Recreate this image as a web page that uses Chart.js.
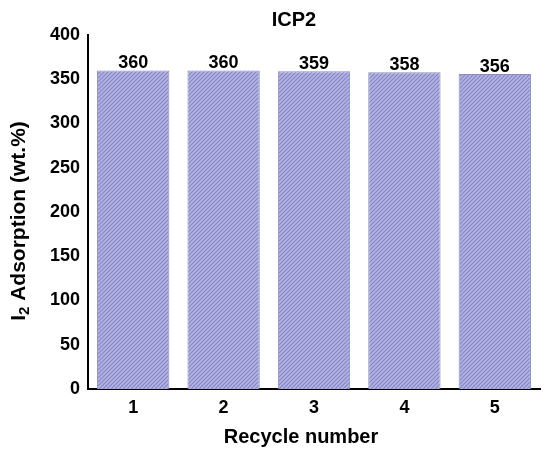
<!DOCTYPE html>
<html><head><meta charset="utf-8">
<script src="https://cdn.jsdelivr.net/npm/chart.js@4/dist/chart.umd.min.js"></script>
<style>html,body{margin:0;padding:0;background:#fff;}#c{display:block;}</style>
</head><body>
<canvas id="c" width="550" height="453"></canvas>
<script>
const categories = ["1","2","3","4","5"];
const adsorption = [360, 360, 359, 358, 356];
const yTicks = [0,50,100,150,200,250,300,350,400];
const titleText = "ICP2";
const yTitleMain = "I";
const yTitleSub = "2";
const yTitleRest = " Adsorption (wt.%)";
const xTitle = "Recycle number";
const FONT = '"Liberation Sans", Arial, sans-serif';

function hatch(){
  const c = document.createElement('canvas'); c.width = 4; c.height = 4;
  const g = c.getContext('2d');
  g.fillStyle = '#b4b4e4'; g.fillRect(0,0,4,4);
  g.strokeStyle = '#8686c4'; g.lineWidth = 1.2;
  g.beginPath();
  g.moveTo(0,4); g.lineTo(4,0);
  g.moveTo(-1,1); g.lineTo(1,-1);
  g.moveTo(3,5); g.lineTo(5,3);
  g.stroke();
  return document.getElementById('c').getContext('2d').createPattern(c,'repeat');
}

const labelsPlugin = {
  id:'lbl',
  afterDatasetsDraw(chart){
    const ctx = chart.ctx;
    const meta = chart.getDatasetMeta(0);
    ctx.save();
    ctx.fillStyle = '#000';
    ctx.font = 'bold 18px ' + FONT;
    ctx.textAlign = 'center'; ctx.textBaseline = 'alphabetic';
    meta.data.forEach((b,i)=>{ ctx.fillText(String(adsorption[i]), b.x, b.y - 2); });
    ctx.font = 'bold 20px ' + FONT;
    ctx.textBaseline = 'middle';
    ctx.fillText(titleText, 294, 20);
    ctx.fillText(xTitle, 301, 437);
    ctx.translate(19, 221);
    ctx.rotate(-Math.PI/2);
    ctx.textAlign = 'left';
    ctx.font = 'bold 21px ' + FONT;
    const wI = ctx.measureText(yTitleMain).width;
    const wR = ctx.measureText(yTitleRest).width;
    ctx.font = 'bold 15px ' + FONT;
    const wS = ctx.measureText(yTitleSub).width;
    const total = wI + wS + wR;
    let x = -total/2;
    ctx.font = 'bold 21px ' + FONT;
    ctx.fillText(yTitleMain, x, 0); x += wI;
    ctx.font = 'bold 15px ' + FONT;
    ctx.fillText(yTitleSub, x, 6); x += wS;
    ctx.font = 'bold 21px ' + FONT;
    ctx.fillText(yTitleRest, x, 0);
    ctx.restore();
  }
};

new Chart(document.getElementById('c'), {
  type:'bar',
  data:{ labels: categories, datasets:[{ data: adsorption, backgroundColor: hatch(), borderColor:'#8c8cbc', borderWidth:1, barPercentage:0.8, categoryPercentage:1.0 }]},
  options:{
    responsive:false, animation:false,
    layout:{ padding:{ top:35, right:10, left:0, bottom:0 } },
    plugins:{ legend:{display:false}, tooltip:{enabled:false} },
    scales:{
      x:{
        grid:{ display:false, drawTicks:false },
        border:{ color:'#000', width:2 },
        ticks:{ color:'#000', font:{ family:FONT, size:18, weight:'bold' }, padding:8 },
        afterFit(s){ s.height = 64; }
      },
      y:{
        min:0, max:400,
        grid:{ display:false, drawTicks:false },
        border:{ color:'#000', width:2 },
        afterBuildTicks(s){ s.ticks = yTicks.map(v=>({value:v})); },
        ticks:{ color:'#000', font:{ family:FONT, size:18, weight:'bold' }, padding:8 },
        afterFit(s){ s.width = 88; }
      }
    }
  },
  plugins:[labelsPlugin]
});
</script>
</body></html>
